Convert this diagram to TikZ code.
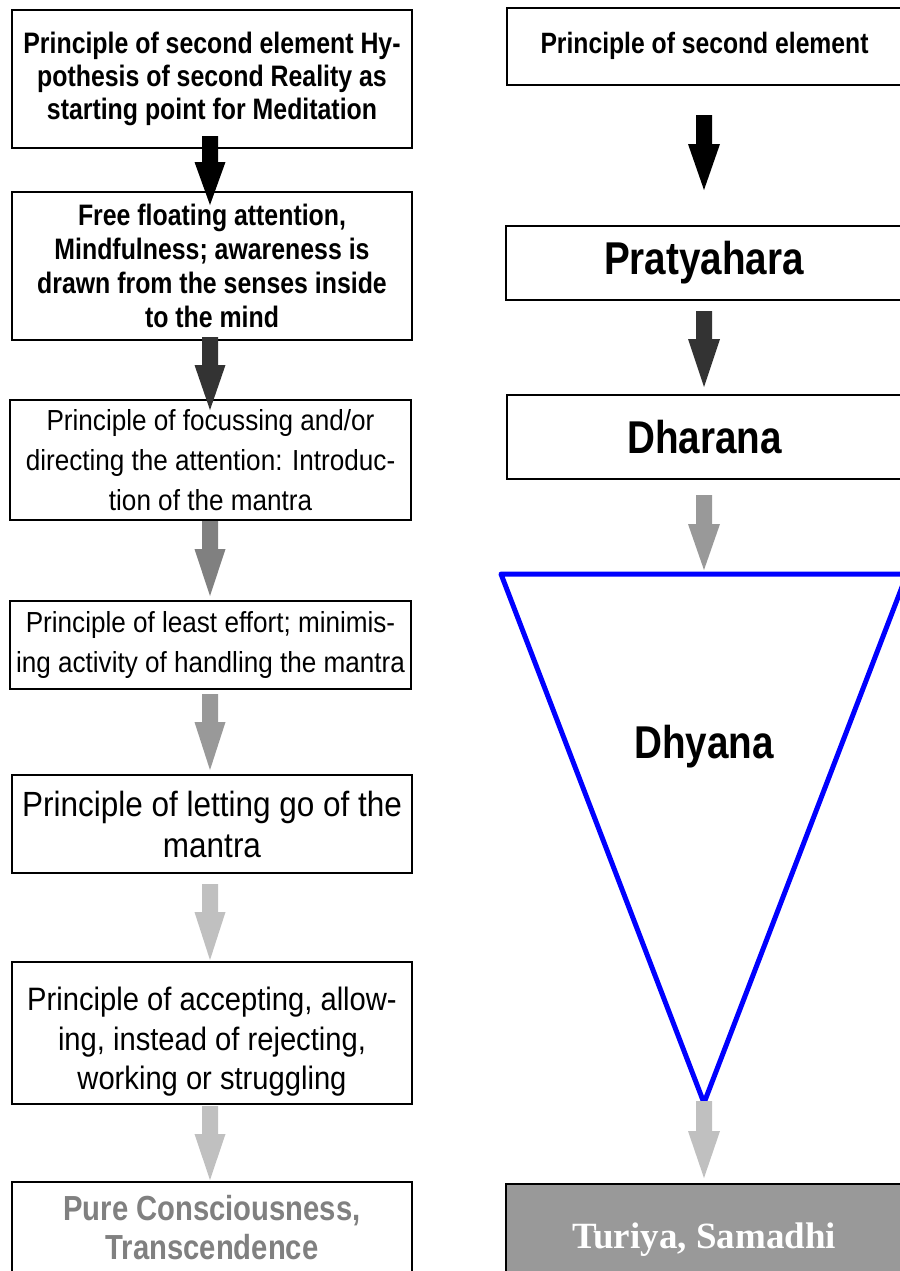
\documentclass[tikz,border=0pt]{standalone}
\usepackage{fontspec}
\newfontfamily\condB{Liberation Sans}[FakeStretch=0.84]
\newfontfamily\condR{Liberation Sans}[FakeStretch=0.9]
\newfontfamily\serifB{Liberation Serif}
\definecolor{gA}{HTML}{333333}
\definecolor{gB}{HTML}{808080}
\definecolor{gC}{HTML}{999999}
\definecolor{gD}{HTML}{C0C0C0}
\newcommand\blockarrowL[5]{%
  \fill[#5] (#1-8,#2) -- (#1+8,#2) -- (#1+8,#3) -- (#1+15.5,#3) -- (#1,#4)
    -- (#1-15.5,#3) -- (#1-8,#3) -- cycle;}
\newcommand\blockarrowR[5]{%
  \fill[#5] (#1-8,#2) -- (#1+8,#2) -- (#1+8,#3) -- (#1+16,#3) -- (#1,#4)
    -- (#1-16,#3) -- (#1-8,#3) -- cycle;}
\begin{document}
\begin{tikzpicture}[x=0.5pt,y=-0.5pt,
  box/.style={draw=black, line width=1pt, fill=white, inner sep=0pt, outer sep=0pt, align=center},
  boldtxt/.style={font=\condB\bfseries\fontsize{14.8}{16.5}\selectfont},
  regtxt/.style={font=\condR\fontsize{14.5}{20}\selectfont},
  bigtxt/.style={font=\condB\bfseries\fontsize{23}{26}\selectfont}]
\path[use as bounding box] (0,0) rectangle (900,1271);
\clip (0,0) rectangle (900,1271);
\fill[white] (0,0) rectangle (900,1271);

% ---------- left column ----------
\node[box, boldtxt, minimum width=200pt, minimum height=69pt] (b1) at (212,79)
  {Principle of second element Hy-\\pothesis of second Reality as\\starting point for Meditation};
\node[box, font=\condB\bfseries\fontsize{14.8}{17}\selectfont, minimum width=200pt, minimum height=74pt] (b2) at (212,266)
  {Free floating attention,\\Mindfulness; awareness is\\drawn from the senses inside\\to the mind};
\node[box, regtxt, minimum width=200.5pt, minimum height=60pt] (b3) at (210.5,460)
  {Principle of focussing and/or\\directing the attention: Introduc-\\tion of the mantra};
\node[box, regtxt, minimum width=200.5pt, minimum height=44pt] (b4) at (210.5,645)
  {Principle of least effort; minimis-\\ing activity of handling the mantra};
\node[box, font=\condR\fontsize{17.5}{20.5}\selectfont, minimum width=200pt, minimum height=49pt] (b5) at (212,824)
  {Principle of letting go of the\\mantra};
\node[box, minimum width=200pt, minimum height=71pt] (b6) at (212,1033) {};
\node[align=center, inner sep=0pt, font=\condR\fontsize{16.2}{19.8}\selectfont] (b6t) at (212,1042)
  {Principle of accepting, allow-\\ing, instead of rejecting,\\working or struggling};
\node[box, text=gB, font=\condB\bfseries\fontsize{17.4}{19.5}\selectfont, minimum width=200pt, minimum height=46pt] (b7) at (212,1228)
  {Pure Consciousness,\\Transcendence};

\blockarrowL{210}{136}{162}{205}{black}
\blockarrowL{210}{337}{365}{410}{gA}
\blockarrowL{210}{521}{549}{596}{gB}
\blockarrowL{210}{694}{722}{770}{gC}
\blockarrowL{210}{884}{912}{960}{gD}
\blockarrowL{210}{1106}{1134}{1180}{gD}

% ---------- right column ----------
\node[box, font=\condB\bfseries\fontsize{14.7}{17}\selectfont, minimum width=197.5pt, minimum height=38.5pt] (r1) at (704.5,46)
  {Principle of second element};
\node[box, bigtxt, minimum width=198pt, minimum height=37pt] (r2) at (704,263) {Pratyahara};
\node[box, bigtxt, minimum width=197.5pt, minimum height=42pt] (r3) at (704.5,437) {Dharana};

\coordinate (tl) at (501,574);
\coordinate (tr) at (907,574);
\coordinate (apex) at (704,1103);
\draw[blue, line width=2.5pt, line join=round] (tl) -- (tr) -- (apex) -- cycle;
\node[bigtxt] (dhy) at (704,747) {Dhyana};

\node[box, fill=gC, text=white, font=\serifB\bfseries\fontsize{18.5}{21}\selectfont, minimum width=198pt, minimum height=56pt] (r4) at (704,1240)
  {Turiya, Samadhi};

\blockarrowR{704}{115}{144}{190}{black}
\blockarrowR{704}{311}{339}{387}{gA}
\blockarrowR{704}{495}{524}{570}{gC}
\blockarrowR{704}{1101}{1131}{1178}{gD}
\end{tikzpicture}
\end{document}
